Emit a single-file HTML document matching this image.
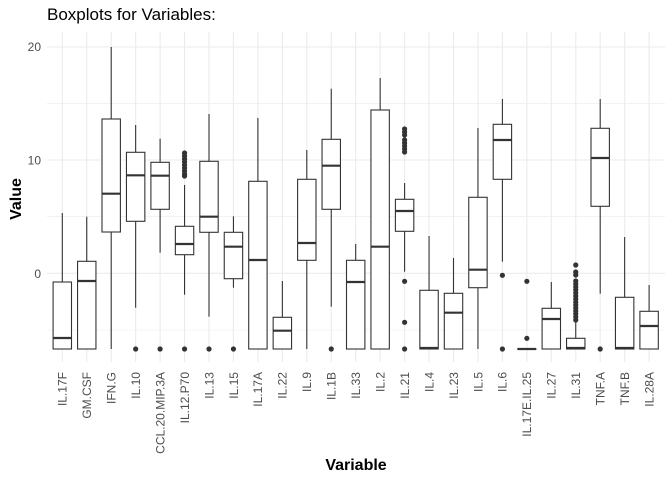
<!DOCTYPE html>
<html><head><meta charset="utf-8"><style>
html,body{margin:0;padding:0;background:#fff}
svg{display:block;font-family:"Liberation Sans",sans-serif}
</style></head><body>
<svg width="672" height="480" viewBox="0 0 672 480" xmlns="http://www.w3.org/2000/svg">
<rect width="672" height="480" fill="#fff"/>
<g stroke="#ebebeb" stroke-width="0.6">
<line x1="47" x2="665" y1="103.3" y2="103.3"/><line x1="47" x2="665" y1="216.7" y2="216.7"/><line x1="47" x2="665" y1="330" y2="330"/>
</g>
<g stroke="#ebebeb" stroke-width="1.1" id="grid"></g>
<g id="boxes" stroke="#333" fill="#fff" stroke-width="1.1"></g>
<g id="labs" font-size="12" fill="#4d4d4d"></g>
<g font-size="12" fill="#4d4d4d" text-anchor="end">
<text x="41" y="51">20</text><text x="41" y="164.5">10</text><text x="41" y="278">0</text>
</g>
<text x="47" y="20" font-size="17" fill="#000">Boxplots for Variables:</text>
<text x="356" y="470" font-size="16" font-weight="bold" text-anchor="middle" fill="#000">Variable</text>
<text transform="translate(21,199) rotate(-90)" font-size="16" font-weight="bold" text-anchor="middle" fill="#000">Value</text>
<script>
var names=["IL.17F","GM.CSF","IFN.G","IL.10","CCL.20.MIP.3A","IL.12.P70","IL.13","IL.15","IL.17A","IL.22","IL.9","IL.1B","IL.33","IL.2","IL.21","IL.4","IL.23","IL.5","IL.6","IL.17E.IL.25","IL.27","IL.31","TNF.A","TNF.B","IL.28A"];
var d=[
[213,282,338,349,349,[]],
[216.7,261.3,281,349,349,[]],
[47,119,193.7,232,349,[]],
[125,152.3,175.3,221.3,307.7,[349]],
[138.7,162.3,175.7,209.3,252.7,[349]],
[185,226.3,244,254.7,294.7,[153,156,159,162,165,168,171,174,176,349]],
[114,161.3,216.7,232.3,316.7,[349]],
[216.3,232.3,246.7,278.7,287.7,[349]],
[118,181.3,260,349,349,[]],
[281,317.3,330.7,349,349,[]],
[150,179.3,243,260.3,349,[]],
[88.7,139.3,165.7,209.3,306.7,[349]],
[244,260.3,282,349,349,[]],
[78,110,246.7,349,349,[]],
[183,199.3,211,231.3,271.7,[129,132,135,140,143,146,149,152,281.3,322.3,349]],
[236,290.3,348,349,349,[]],
[258,293.3,312.7,349,349,[]],
[128,197.3,269.7,287.7,349,[]],
[99,124.3,140,179.3,261.7,[275.3,349]],
[349,349,349,349,349,[281.3,338.3]],
[282,308.3,319,349,349,[]],
[321,338.3,348,349,349,[265,272,275,281,284,287,290,293,296,299,302,305,308,311,314,317,320]],
[99,128.3,158,206.3,293.7,[349]],
[237,297.3,348,349,349,[]],
[285,311.3,326,349,349,[]]];
var ns="http://www.w3.org/2000/svg";
function el(p,t,a){var e=document.createElementNS(ns,t);for(var k in a)e.setAttribute(k,a[k]);p.appendChild(e);return e;}
var g=document.getElementById("grid"),b=document.getElementById("boxes"),l=document.getElementById("labs");
[47,160,273.3].forEach(function(y){el(g,"line",{x1:47,x2:665,y1:y,y2:y});});
for(var i=0;i<25;i++){
 var x=62.3+24.45*i;
 el(g,"line",{x1:x,x2:x,y1:32,y2:362});
 var r=d[i],w=9.2;
 el(b,"line",{x1:x,x2:x,y1:r[0],y2:r[1]});
 el(b,"line",{x1:x,x2:x,y1:r[3],y2:r[4]});
 el(b,"rect",{x:x-w,y:r[1],width:2*w,height:Math.max(r[3]-r[1],0.01)});
 el(b,"line",{x1:x-w,x2:x+w,y1:r[2],y2:r[2],"stroke-width":2.2});
 r[5].forEach(function(o){el(b,"circle",{cx:x,cy:o,r:2.6,fill:"#333",stroke:"none"});});
 var t=el(l,"text",{transform:"translate("+(x+4.3)+",372) rotate(-90)","text-anchor":"end"});
 t.textContent=names[i];
}
</script>
</svg>
</body></html>
